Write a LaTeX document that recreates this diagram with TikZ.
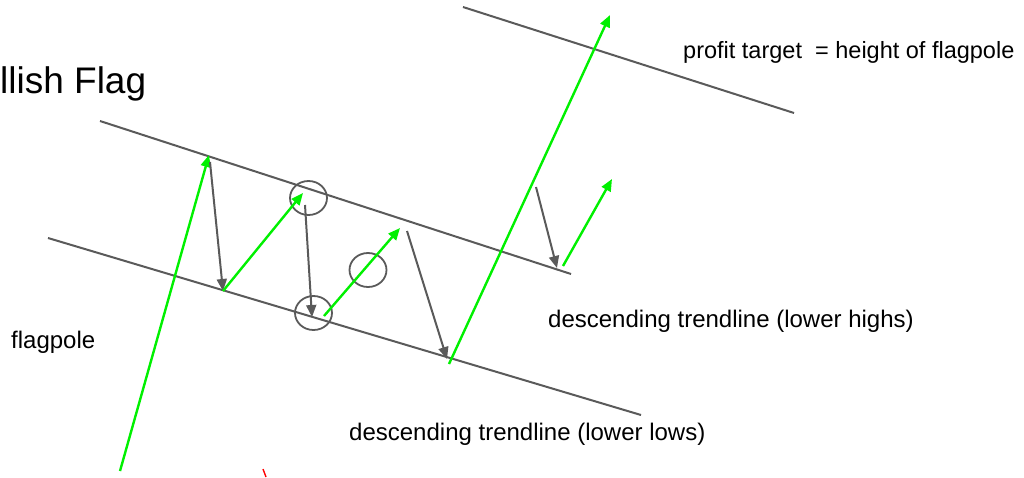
\documentclass[tikz,border=0pt]{standalone}
\usepackage{fontspec}
\setmainfont{Liberation Sans}
\usetikzlibrary{arrows.meta,shapes.geometric}
\definecolor{tgreen}{RGB}{0,240,0}
\definecolor{tgray}{RGB}{90,90,90}
\tikzset{
  trend/.style={tgray,line width=2pt},
  uparrow/.style={tgreen,line width=2.4pt,-{Triangle[length=12pt,width=10pt]}},
  downarrow/.style={tgray,line width=2pt,-{Triangle[length=12pt,width=10pt]}},
  ring/.style={draw=tgray,line width=1.8pt,ellipse,inner sep=0pt,minimum width=37pt,minimum height=34pt},
  lbl/.style={inner sep=0pt,anchor=base west,font=\fontsize{24}{28}\selectfont},
}
\begin{document}
\begin{tikzpicture}[x=1pt,y=-1pt]
\useasboundingbox (0,0) rectangle (1024,477);
% trendlines
\coordinate (u1) at (100,121); \coordinate (u2) at (571,274);
\coordinate (l1) at (48,238);  \coordinate (l2) at (641,415);
\coordinate (t1) at (463,7);   \coordinate (t2) at (794,113);
\draw[trend] (u1) -- (u2);
\draw[trend] (l1) -- (l2);
\draw[trend] (t1) -- (t2);
% circles
\node[ring] (c1) at (308.5,198) {};
\node[ring] (c2) at (313.5,313) {};
\node[ring] (c3) at (368,270) {};
% arrow points
\coordinate (p0) at (120,471);
\coordinate (p1) at (209,155);
\coordinate (q1) at (210,162);
\coordinate (p2) at (223,291);
\coordinate (p3) at (303,193);
\coordinate (q3) at (305,205);
\coordinate (p4) at (312,317);
\coordinate (q4) at (324,316);
\coordinate (p5) at (400,228);
\coordinate (q5) at (407,231);
\coordinate (p6) at (447,359);
\coordinate (q6) at (449,364);
\coordinate (p7) at (610,15);
\coordinate (q8) at (536,187);
\coordinate (p8) at (557,268);
\coordinate (q9) at (563,266);
\coordinate (p9) at (612,179);
\draw[uparrow] (p0) -- (p1);
\draw[downarrow] (q1) -- (p2);
\draw[uparrow] (p2) -- (p3);
\draw[downarrow] (q3) -- (p4);
\draw[uparrow] (q4) -- (p5);
\draw[downarrow] (q5) -- (p6);
\draw[uparrow] (q6) -- (p7);
\draw[downarrow] (q8) -- (p8);
\draw[uparrow] (q9) -- (p9);
% red mark
\coordinate (r1) at (263,469); \coordinate (r2) at (266,477);
\draw[red,line width=1.4pt] (r1) -- (r2);
% texts
\node[inner sep=0pt,anchor=base west,font=\fontsize{37}{44}\selectfont] (title) at (0,93.5) {llish Flag};
\node[lbl,font=\fontsize{23.5}{28}\selectfont] (pt) at (683,58) {profit target\ \ = height of flagpole};
\node[lbl] (fp) at (11,348) {flagpole};
\node[lbl] (lh) at (548,327) {descending trendline (lower highs)};
\node[lbl] (ll) at (349,440) {descending trendline (lower lows)};
\end{tikzpicture}
\end{document}
